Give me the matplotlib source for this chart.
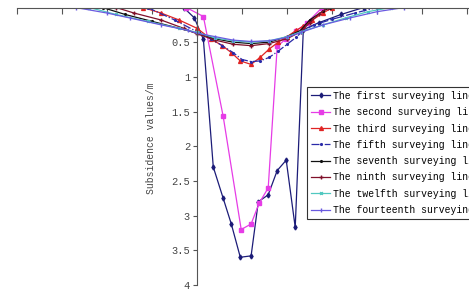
import matplotlib
matplotlib.use("Agg")
import matplotlib.pyplot as plt

# distance along profile (m) and subsidence (m) for each surveying line
x_first = [-15, -3, 7, 18, 29, 38, 48, 60, 68, 79, 89, 99, 109, 118, 135, 160, 185]
y_first = [0.0, 0.15, 0.46, 2.3, 2.75, 3.12, 3.6, 3.58, 2.8, 2.7, 2.35, 2.2, 3.17, 0.32, 0.22, 0.1, 0.0]

x_second = [-12, 7, 29, 49, 60, 69, 79, 89, 99, 110, 122, 139]
y_second = [0.0, 0.13, 1.57, 3.2, 3.12, 2.82, 2.6, 0.56, 0.45, 0.34, 0.22, 0.0]

x_third = [-60, -40, -20, 0, 15, 28, 38, 48, 60, 70, 80, 90, 100, 110, 118, 128, 140, 150]
y_third = [0.0, 0.08, 0.18, 0.3, 0.45, 0.55, 0.65, 0.77, 0.82, 0.72, 0.6, 0.5, 0.42, 0.33, 0.27, 0.18, 0.08, 0.0]

x_fifth = [-55, -25, 0, 15, 28, 40, 50, 60, 70, 80, 90, 100, 110, 118, 130, 150, 175, 200]
y_fifth = [0.0, 0.18, 0.35, 0.45, 0.55, 0.65, 0.75, 0.78, 0.77, 0.72, 0.63, 0.53, 0.43, 0.33, 0.25, 0.17, 0.08, 0.0]

x_seventh = [-105, -80, -50, -20, 0, 20, 40, 60, 80, 100, 115, 125, 140, 148]
y_seventh = [0.0, 0.1, 0.2, 0.3, 0.37, 0.45, 0.5, 0.52, 0.5, 0.42, 0.33, 0.18, 0.05, 0.0]

x_ninth = [-90, -70, -40, -15, 0, 20, 40, 60, 80, 100, 115, 125, 135, 145]
y_ninth = [0.0, 0.08, 0.18, 0.3, 0.38, 0.47, 0.53, 0.55, 0.52, 0.45, 0.35, 0.22, 0.1, 0.0]

x_twelfth = [-120, -90, -55, -20, 0, 20, 40, 60, 80, 100, 115, 140, 165, 190, 215]
y_twelfth = [0.0, 0.1, 0.2, 0.3, 0.36, 0.44, 0.48, 0.5, 0.48, 0.42, 0.35, 0.25, 0.15, 0.06, 0.0]

x_fourteenth = [-135, -100, -75, -40, -10, 0, 20, 40, 60, 80, 100, 115, 140, 170, 200, 230]
y_fourteenth = [0.0, 0.08, 0.15, 0.25, 0.33, 0.37, 0.42, 0.47, 0.49, 0.48, 0.43, 0.36, 0.25, 0.15, 0.06, 0.0]

x_ticks = [-200, -150, -100, -50, 0, 50, 100, 150, 200, 250, 300]
y_ticks = [0.5, 1, 1.5, 2, 2.5, 3, 3.5, 4]
y_tick_labels = ["0.5", "1", "1.5", "2", "2.5", "3", "3.5", "4"]

font = "Liberation Mono"

fig = plt.figure(figsize=(4.69, 2.92), dpi=100)
ax = fig.add_axes([17 / 469, 1 - 285 / 292, 452 / 469, 277.5 / 292])

lines = [
    (x_first, y_first, "The first surveying line", "#1c1c78", "-", "d", 2.5),
    (x_second, y_second, "The second surveying line", "#e63ce6", "-", "s", 2.8),
    (x_third, y_third, "The third surveying line", "#e02424", "-", "^", 2.8),
    (x_fifth, y_fifth, "The fifth surveying line", "#2a2aa8", "-.", ".", 2.5),
    (x_seventh, y_seventh, "The seventh surveying line", "#101010", "-", ".", 2.5),
    (x_ninth, y_ninth, "The ninth surveying line", "#80102a", "-", "+", 3),
    (x_twelfth, y_twelfth, "The twelfth surveying line", "#50c8c0", "-", "x", 2),
    (x_fourteenth, y_fourteenth, "The fourteenth surveying line", "#6a5ae0", "-", "|", 2.5),
]
for xs, ys, label, color, ls, mk, ms in lines:
    ax.plot(xs, ys, color=color, linestyle=ls, marker=mk, markersize=ms,
            linewidth=0.9, label=label)

ax.set_xlim(-200, 302)
ax.set_ylim(4, 0)

ax.spines["right"].set_visible(False)
ax.spines["bottom"].set_visible(False)
ax.spines["left"].set_position(("data", 0))
for s in ("top", "left"):
    ax.spines[s].set_color("#555555")
    ax.spines[s].set_linewidth(0.8)

ax.xaxis.tick_top()
ax.set_xticks(x_ticks)
ax.tick_params(axis="x", direction="in", length=4, color="#555555", labeltop=False)
ax.set_yticks(y_ticks)
ax.set_yticklabels(y_tick_labels, fontfamily=font, fontsize=7.5, color="#444444")
ax.tick_params(axis="y", direction="out", length=3, color="#555555", pad=2)

ax.set_ylabel("Subsidence values/m", fontfamily=font, fontsize=7, color="#444444")
ax.yaxis.set_label_coords((156 - 17) / 452, 0.53)

leg = ax.legend(loc="upper left", bbox_to_anchor=(307 / 469, 1 - 87 / 292),
                bbox_transform=fig.transFigure, prop={"family": font, "size": 7},
                frameon=True, fancybox=False, edgecolor="#333333", framealpha=1,
                borderaxespad=0, borderpad=0.4, labelspacing=0.65,
                handlelength=2.0, handletextpad=0.3)
leg.get_frame().set_linewidth(0.8)

fig.savefig("out.png", dpi=100)
